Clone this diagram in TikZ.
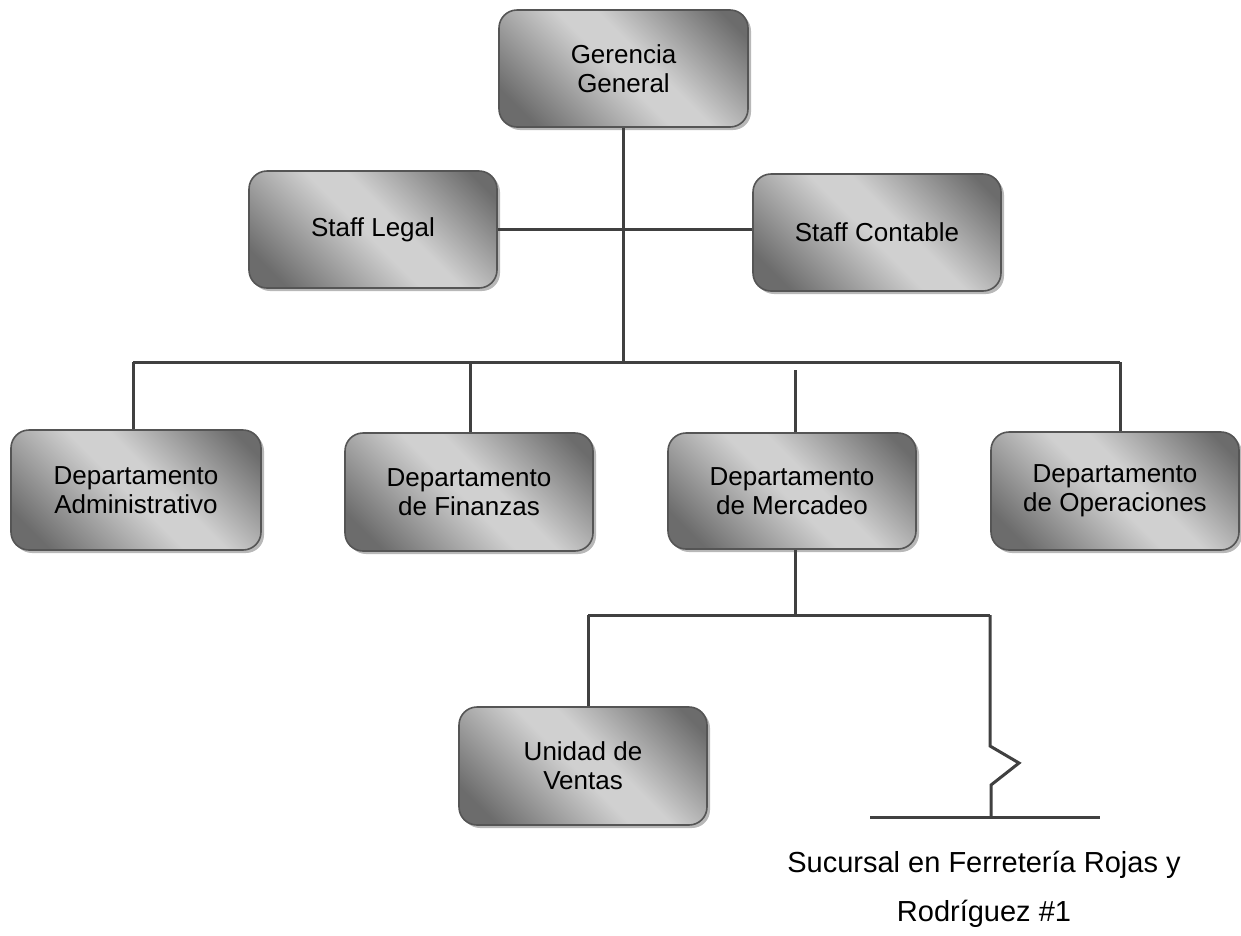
\documentclass[tikz,border=0pt]{standalone}
\usepackage{fontspec}
\setmainfont{Liberation Sans}
\usetikzlibrary{shadows}
\definecolor{bdark}{HTML}{6C6C6C}
\definecolor{blight}{HTML}{D0D0D0}
\definecolor{edge}{HTML}{555555}
\definecolor{wire}{HTML}{404040}
\pgfdeclareverticalshading{boxshade}{100bp}{color(0bp)=(bdark); color(22bp)=(bdark); color(48bp)=(blight); color(56bp)=(blight); color(80bp)=(bdark); color(100bp)=(bdark)}
\tikzset{
  unit/.style={draw=edge, line width=1.6pt, rounded corners=18pt,
    shading=boxshade, shading angle=-45,
    drop shadow={shadow xshift=3pt, shadow yshift=-3pt, fill=black!28, opacity=1},
    align=center, inner sep=0pt, minimum width=248pt, minimum height=117pt,
    font=\fontsize{26}{29}\selectfont},
  wireline/.style={draw=wire, line width=3pt},
  caption/.style={align=center, inner sep=0pt, font=\fontsize{29}{49}\selectfont}
}
\begin{document}
\begin{tikzpicture}[x=1pt, y=-1pt]
\useasboundingbox (0,0) rectangle (1241,935);

% boxes
\node[unit, minimum width=249pt] (ger) at (623.5,68.5) {Gerencia\\General};
\node[unit] (legal) at (373,229.5) {Staff Legal};
\node[unit] (cont) at (877,232.5) {Staff Contable};
\node[unit, minimum width=250pt, minimum height=120pt] (adm) at (136,490) {Departamento\\Administrativo};
\node[unit, minimum height=118pt] (fin) at (469,492) {Departamento\\de Finanzas};
\node[unit, minimum height=116pt] (merc) at (792,491) {Departamento\\de Mercadeo};
\node[unit, minimum height=118pt] (ops) at (1115,491) {Departamento\\de Operaciones};
\node[unit, minimum height=118pt] (ventas) at (583,766) {Unidad de\\Ventas};

% junction points
\coordinate (busL) at (133,362);
\coordinate (busR) at (1120,362);
\coordinate (mtop) at (795,370);
\coordinate (sbL) at (588,615);
\coordinate (sbR) at (990,615);
\coordinate (zA) at (990,746);
\coordinate (zB) at (1019,763);
\coordinate (zC) at (991,785);
\coordinate (zD) at (991,817);
\coordinate (baseL) at (870,817);
\coordinate (baseR) at (1100,817);

% connectors
\draw[wireline] (ger.south) -- (ger.south |- busL);
\draw[wireline] (legal.east) -- (legal.east -| cont.west);
\draw[wireline] (busL) -- (busR);
\draw[wireline] (busL) -- (busL |- adm.north);
\draw[wireline] (470,362) -- (470,0 |- fin.north);
\draw[wireline] (mtop) -- (mtop |- merc.north);
\draw[wireline] (busR) -- (busR |- ops.north);
\draw[wireline] (795,0 |- merc.south) -- (795,0 |- sbL);
\draw[wireline] (sbL) -- (sbR);
\draw[wireline] (sbL) -- (sbL |- ventas.north);
\draw[wireline, line join=miter] (sbR) -- (zA) -- (zB) -- (zC) -- (zD);
\draw[wireline] (baseL) -- (baseR);

% branch label
\node[caption] (suc) at (984,889) {Sucursal en Ferretería Rojas y\\Rodríguez \#1};
\end{tikzpicture}
\end{document}
